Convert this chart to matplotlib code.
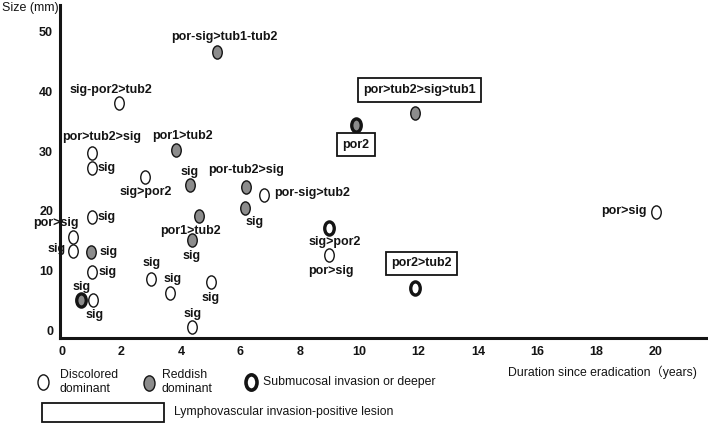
import matplotlib.pyplot as plt
import numpy as np
from matplotlib.path import Path
from matplotlib.patches import Rectangle

plt.rcParams['font.family'] = ['Liberation Sans', 'Noto Sans CJK JP', 'DejaVu Sans']

# lesions: years since eradication, size (mm), colour (0 discolored, 1 reddish),
# submucosal invasion, histology, lymphovascular invasion
duration = [5.2, 1.9, 1.0, 1.0, 3.85, 2.8, 4.3, 6.2, 6.8, 6.15,
            9.9, 11.9, 9.0, 9.0, 11.9, 20.0, 1.0, 0.37, 0.37, 0.98,
            1.0, 0.64, 1.04, 4.6, 4.37, 3.0, 3.64, 5.0, 4.38]
size_mm = [46.6, 38.1, 29.7, 27.2, 30.2, 25.7, 24.3, 24.0, 22.6, 20.5,
           34.4, 36.4, 17.1, 12.6, 7.0, 19.8, 19.0, 15.6, 13.3, 13.1,
           9.7, 5.0, 5.0, 19.1, 15.1, 8.6, 6.2, 8.1, 0.5]
reddish = [1, 0, 0, 0, 1, 0, 1, 1, 0, 1,
           1, 1, 0, 0, 0, 0, 0, 0, 0, 1,
           0, 1, 0, 1, 1, 0, 0, 0, 0]
submucosal = [0, 0, 0, 0, 0, 0, 0, 0, 0, 0,
              1, 0, 1, 0, 1, 0, 0, 0, 0, 0,
              0, 1, 0, 0, 0, 0, 0, 0, 0]
histology = ['por-sig>tub1-tub2', 'sig-por2>tub2', 'por>tub2>sig', 'sig', 'por1>tub2',
             'sig>por2', 'sig', 'por-tub2>sig', 'por-sig>tub2', 'sig',
             'por2', 'por>tub2>sig>tub1', 'sig>por2', 'por>sig', 'por2>tub2',
             'por>sig', 'sig', 'por>sig', 'sig', 'sig',
             'sig', 'sig', 'sig', 'por1>tub2', 'sig',
             'sig', 'sig', 'sig', 'sig']
lvi = [0, 0, 0, 0, 0, 0, 0, 0, 0, 0,
       1, 1, 0, 0, 1, 0, 0, 0, 0, 0,
       0, 0, 0, 0, 0, 0, 0, 0, 0]

xticks = list(range(0, 21, 2))
yticks = list(range(0, 51, 10))

# label placement (pixel offsets from the marker, alignment)
label_pos = [(8, 15, 'center'), (-8, 13, 'center'), (10, 16, 'center'), (6, 0, 'left'),
             (6, 14, 'center'), (0, -15, 'center'), (0, 13, 'center'), (0, 17, 'center'),
             (10, 2, 'left'), (10, -14, 'center'), (0, -20, 'center'), (4, 23, 'center'),
             (5, -14, 'center'), (2, -16, 'center'), (6, 25, 'center'), (-9, 1, 'right'),
             (6, 0, 'left'), (-17, 14, 'center'), (-7, 2, 'right'), (8, 0, 'left'),
             (7, 0, 'left'), (0, 13, 'center'), (2, -15, 'center'), (-8, -15, 'center'),
             (0, -16, 'center'), (0, 16, 'center'), (2, 14, 'center'), (0, -16, 'center'),
             (0, 13, 'center')]

circ = Path.unit_circle()
ellipse = Path(circ.vertices * [0.72, 1.0], circ.codes)
grey = '#8c8c8c'
ink = '#141414'

fig = plt.figure(figsize=(7.08, 4.28), dpi=100)
ax = fig.add_axes([60 / 708, 90 / 428, 648 / 708, 333 / 428])

for i in range(len(duration)):
    fc = grey if reddish[i] else 'white'
    ew = 2.4 if submucosal[i] else 1.0
    ax.plot(duration[i], size_mm[i], marker=ellipse, ms=9.5, mfc=fc, mec=ink, mew=ew,
            linestyle='none', zorder=3)
    dx, dy, ha = label_pos[i]
    box = None
    if lvi[i]:
        box = dict(boxstyle='square,pad=0.45', fc='white', ec=ink, lw=1.3)
    ax.annotate(histology[i], (duration[i], size_mm[i]), xytext=(dx, dy),
                textcoords='offset pixels', ha=ha, va='center', fontsize=9,
                fontweight='bold', color=ink, bbox=box, zorder=4)

ax.set_xlim(-0.07, 21.75)
ax.set_ylim(-1.34, 54.5)
ax.set_xticks(xticks)
ax.set_yticks(yticks)
ax.tick_params(length=0, labelsize=9, colors=ink)
ax.tick_params(axis='x', pad=5.5)
ax.tick_params(axis='y', pad=5)
for lab in ax.get_xticklabels() + ax.get_yticklabels():
    lab.set_fontweight('bold')
for s in ['top', 'right']:
    ax.spines[s].set_visible(False)
for s in ['left', 'bottom']:
    ax.spines[s].set_linewidth(2.2)
    ax.spines[s].set_color(ink)

# figure-level text and legend in pixel coordinates
leg = fig.add_axes([0, 0, 1, 1], facecolor='none')
leg.set_xlim(0, 708)
leg.set_ylim(428, 0)
leg.axis('off')

leg.text(2, 8, 'Size (mm)', fontsize=9, ha='left', va='center', color=ink)
leg.text(697, 372, 'Duration since eradication（years)', fontsize=8.8, ha='right',
         va='center', color=ink)

leg.plot(43, 382, marker=ellipse, ms=11, mfc='white', mec=ink, mew=1.0)
leg.text(60, 382, 'Discolored\ndominant', fontsize=8.8, ha='left', va='center', color=ink)
leg.plot(149, 383, marker=ellipse, ms=11, mfc=grey, mec=ink, mew=1.0)
leg.text(162, 382, 'Reddish\ndominant', fontsize=8.8, ha='left', va='center', color=ink)
leg.plot(251, 382, marker=ellipse, ms=11, mfc='white', mec=ink, mew=2.6)
leg.text(263, 382, 'Submucosal invasion or deeper', fontsize=8.8, ha='left',
         va='center', color=ink)

leg.add_patch(Rectangle((42, 403), 122, 19, fc='white', ec=ink, lw=1.3))
leg.text(174, 412, 'Lymphovascular invasion-positive lesion', fontsize=8.8, ha='left',
         va='center', color=ink)

fig.savefig('out.png', dpi=100)
